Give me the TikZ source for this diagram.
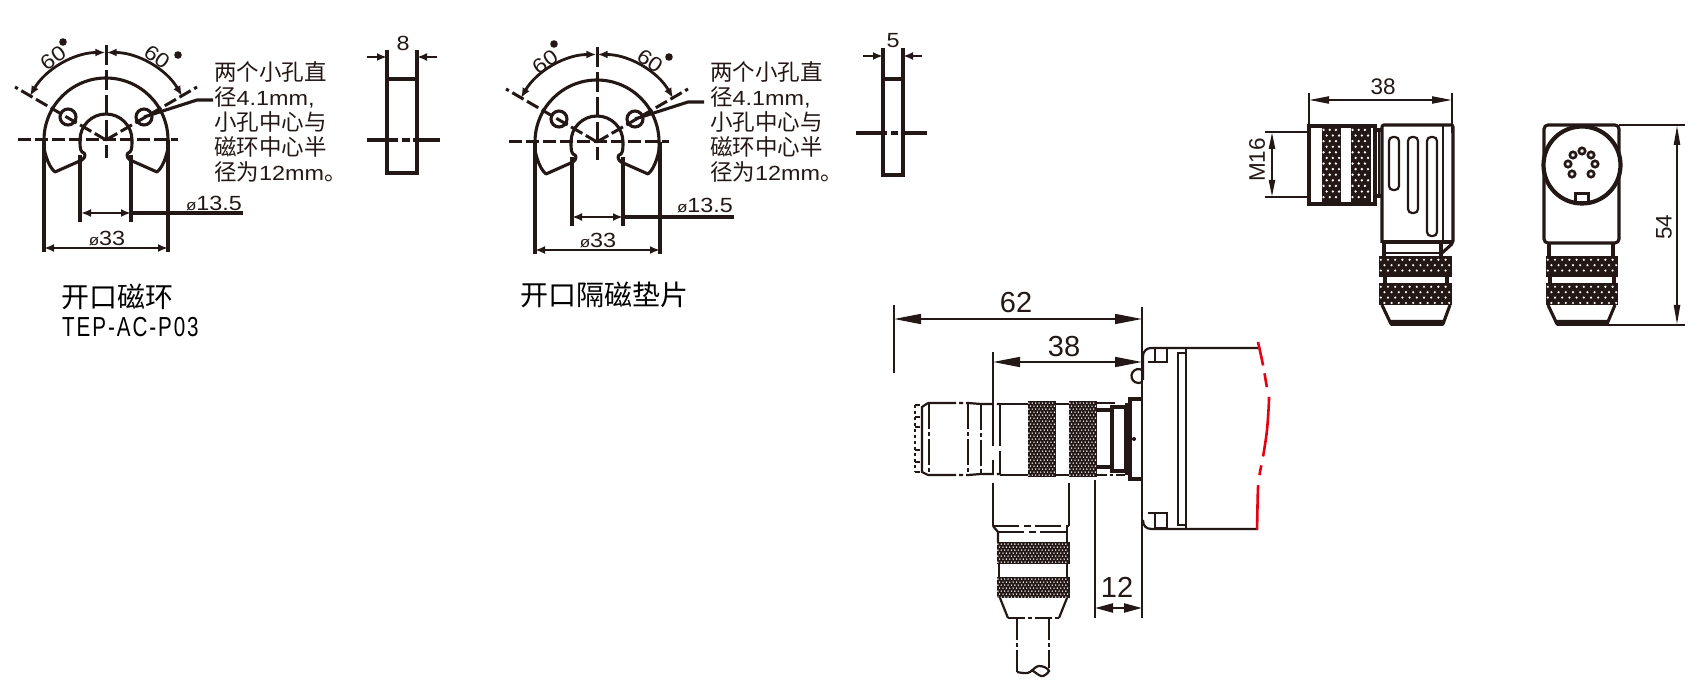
\documentclass[tikz,border=0pt]{standalone}
\usepackage{fontspec}
\usetikzlibrary{arrows.meta}
\setmainfont{Liberation Sans}
\newfontfamily\cjk{Noto Sans CJK SC}
\newfontfamily\widefam[FakeStretch=1.14]{Liberation Sans}
\newfontfamily\narrowfam[FakeStretch=0.75,LetterSpace=7]{Liberation Sans}
\definecolor{ink}{HTML}{231815}
\definecolor{redline}{HTML}{E60012}
\tikzset{
  thickln/.style={line width=3.1pt,draw=ink},
  medln/.style={line width=2.2pt,draw=ink},
  thinln/.style={line width=1.5pt,draw=ink},
  dashln/.style={line width=3pt,draw=ink,dash pattern=on 13pt off 4pt},
  dimsm/.style={line width=2.8pt,draw=ink,{Latex[length=10pt,width=8pt]}-{Latex[length=10pt,width=8pt]}},
  dimstart/.style={line width=2.8pt,draw=ink,{Latex[length=10pt,width=8pt]}-},
  dimend/.style={line width=2.8pt,draw=ink,-{Latex[length=10pt,width=8pt]}},
  dimbig/.style={line width=1.6pt,draw=ink,{Triangle[length=27pt,width=10pt]}-{Triangle[length=27pt,width=10pt]}},
  dimmid/.style={line width=2pt,draw=ink,{Triangle[length=20pt,width=7pt]}-{Triangle[length=20pt,width=7pt]}},
  lbl/.style={inner sep=0pt,text=ink,font=\widefam\fontsize{20.5}{21}\selectfont},
  stdlbl/.style={inner sep=0pt,text=ink,font=\fontsize{22.5}{23}\selectfont},
  biglbl/.style={inner sep=0pt,text=ink,font=\fontsize{29}{29}\selectfont},
  note/.style={inner sep=0pt,anchor=north west,align=left,text=ink,font=\widefam\fontsize{20.5}{25}\selectfont},
  title/.style={inner sep=0pt,anchor=west,text=black,font=\cjk\fontsize{28}{28}\selectfont},
}
\newcommand{\knurl}[7]{% x0,y0,x1,y1,dx,dy,r
  \fill[ink] (#1,#2) rectangle (#3,#4);
  \pgfmathtruncatemacro{\nx}{(#3-#1)/#5}
  \pgfmathtruncatemacro{\ny}{(#4-#2)/#6-1}
  \foreach \j in {0,...,\ny}{
    \foreach \i in {0,...,\nx}{
      \pgfmathsetmacro{\px}{#1+#5*(\i+0.25+0.5*mod(\j,2))}
      \pgfmathsetmacro{\py}{#2+#6*(\j+0.7)}
      \pgfmathparse{\px<#3-1 ? 1 : 0}
      \ifnum\pgfmathresult=1 \fill[white] (\px,\py) circle[radius=#7pt];\fi
    }
  }
}
\newcommand{\ringshape}[2]{%
 \begin{scope}[shift={(#1,#2)}]
  \draw[thickln,line join=round] (-51,32) .. controls (-55,29) and (-58,22) .. (-59,19)
    .. controls (-63,8) and (-62,4) .. (-62,0) arc[start angle=180,end angle=0,radius=62pt]
    .. controls (62,4) and (63,8) .. (59,19) .. controls (58,22) and (55,29) .. (51,32)
    -- (24,20) .. controls (20,17) and (20,13) .. (24,12) .. controls (26,10) and (26,5) .. (26,0)
    arc[start angle=0,end angle=180,radius=26pt]
    .. controls (-26,5) and (-26,10) .. (-24,12) .. controls (-20,13) and (-20,17) .. (-24,20) -- cycle;
  \draw[dashln] (-88,0) -- (72,0);
  \draw[dashln,dash pattern=on 20pt off 5pt] (0,-95) -- (0,18);
  \draw[dashln] (0,0) -- (-91,-53);
  \draw[dashln] (0,0) -- (91,-53);
  \draw[thickln] (-38,-23) circle[radius=8pt];
  \draw[thickln] (38,-23) circle[radius=8pt];
  \draw[thickln] (38,-23) -- (91,-40) -- (107,-40);
  \draw[dimsm] (-76,-44) arc[start angle=150,end angle=90,radius=87pt];
  \draw[dimsm] (76,-44) arc[start angle=30,end angle=90,radius=87pt];
  \fill[ink] (-43,-98) circle[radius=3.8pt];
  \fill[ink] (72,-85) circle[radius=3.8pt];
 \end{scope}
}
\newcommand{\cj}[1]{{\cjk\fontsize{22.5}{25}\selectfont #1}}
\newcommand{\notetext}{\cj{两个小孔直}\\\cj{径}4.1mm,\\\cj{小孔中心与}\\\cj{磁环中心半}\\\cj{径为}12mm\cj{。}}
\newcommand{\dia}{{\fontsize{15}{15}\selectfont ø}}
\begin{document}
\begin{tikzpicture}[x=1pt,y=-1pt]
\useasboundingbox (0,0) rectangle (1701,684);
\fill[white] (0,0) rectangle (1701,684);
% ---------- ring 1
\ringshape{106}{140}
\node[lbl,rotate=35] (r1a) at (53,58) {60};
\node[lbl,rotate=-35] (r1b) at (157,57) {60};
\draw[thickln] (44,140) -- (44,252);
\draw[thickln] (168,140) -- (168,252);
\draw[dimsm] (44,248) -- (168,248);
\draw[thickln] (80,155) -- (80,222);
\draw[thickln] (131,155) -- (131,222);
\draw[dimsm] (81,213) -- (131,213);
\draw[thickln] (131,213) -- (243,213);
\node[lbl] (r1c) at (214,203) {\dia 13.5};
\node[lbl] (r1d) at (107,238) {\dia 33};
\node[note] (r1n) at (214,61) {\notetext};
% rect 1
\draw[thickln] (387,50) -- (387,173) -- (417,173) -- (417,50);
\draw[thickln] (387,79) -- (417,79);
\draw[dimend] (367,57) -- (387,57);
\draw[dimstart] (417,57) -- (437,57);
\draw[thickln] (367,140) -- (398,140) (402,140) -- (410,140) (413,140) -- (440,140);
\node[lbl] (r1e) at (403,43) {8};
\node[title] (t1) at (61,297) {开口磁环};
\node[inner sep=0pt,anchor=west,text=black,font=\narrowfam\fontsize{27.5}{28}\selectfont] (t2) at (62,327) {TEP-AC-P03};
% ---------- ring 2
\ringshape{597}{142}
\node[lbl,rotate=35] (r2a) at (545,62) {60};
\node[lbl,rotate=-35] (r2b) at (650,61) {60};
\draw[thickln] (535,142) -- (535,254);
\draw[thickln] (660,142) -- (660,254);
\draw[dimsm] (535,250) -- (660,250);
\draw[thickln] (572,157) -- (572,226);
\draw[thickln] (623,157) -- (623,226);
\draw[dimsm] (572,217) -- (623,217);
\draw[thickln] (623,217) -- (734,217);
\node[lbl] (r2c) at (705,205) {\dia 13.5};
\node[lbl] (r2d) at (598,240) {\dia 33};
\node[note] (r2n) at (710,61) {\notetext};
% rect 2
\draw[thickln] (883,48) -- (883,175) -- (903,175) -- (903,48);
\draw[thickln] (883,79) -- (903,79);
\draw[dimend] (863,56) -- (883,56);
\draw[dimstart] (903,56) -- (922,56);
\draw[thickln] (856,133) -- (887,133) (891,133) -- (898,133) (901,133) -- (927,133);
\node[lbl] (r2e) at (893,41) {5};
\node[title] (t3) at (520,295) {开口隔磁垫片};
% ---------- top right: side view
\draw[medln] (1309,93) -- (1309,126);
\draw[medln] (1452,93) -- (1452,133);
\draw[dimmid] (1309,100) -- (1452,100);
\node[stdlbl] (d38a) at (1383,87) {38};
\draw[medln] (1265,132) -- (1307,132);
\draw[medln] (1265,197) -- (1307,197);
\draw[medln,{Triangle[length=17pt,width=6pt]}-{Triangle[length=17pt,width=6pt]}] (1272,132) -- (1272,197);
\node[stdlbl,rotate=90] (dm16) at (1257,160) {M16};
\draw[thickln] (1309,126) rectangle (1375,204);
\knurl{1322}{126}{1341}{204}{6.2}{5.6}{1.3}
\knurl{1351}{126}{1371}{204}{6.2}{5.6}{1.3}
\draw[thickln] (1375,130) -- (1381,130) (1375,196) -- (1381,196);
\draw[medln] (1379,130) -- (1379,196);
\draw[thickln,rounded corners=2pt] (1382,243) -- (1382,125) -- (1453,125) -- (1453,243) -- (1442,253);
\draw[medln] (1443,125) -- (1443,243);
\draw[thickln] (1382,242) -- (1453,242);
\draw[thickln] (1384,243) -- (1384,256);
\draw[thickln] (1441,243) -- (1441,256);
\draw[medln] (1384,253) -- (1441,253);
\foreach \a/\b/\c in {1389/1399/190,1408/1418/213,1427/1437/236}{
  \draw[medln,rounded corners=4pt] (\a,137) rectangle (\b,\c);
}
\knurl{1379}{256}{1452}{277}{7.2}{5.4}{1.2}
\knurl{1379}{283}{1452}{305}{7.2}{5.4}{1.2}
\draw[thickln] (1385,277) -- (1385,283) (1447,277) -- (1447,283);
\draw[thickln,line join=round] (1382,305) -- (1391,324) -- (1443,324) -- (1450,305);
\fill[ink] (1389,320) -- (1445,320) -- (1443,326) -- (1391,326) -- cycle;
% ---------- top right: front view
\draw[thickln,rounded corners=4pt] (1544,243) -- (1544,125) -- (1619,125) -- (1619,243) -- cycle;
\draw[line width=4.2pt,draw=ink,fill=white] (1582,165) circle[radius=38.5pt];
\foreach \p/\q in {1582/151,1573/155,1591/155,1568/164,1595/164,1572/174,1591/174}{
  \draw[line width=2.6pt,draw=ink] (\p,\q) circle[radius=3.2pt];
}
\fill[ink] (1574,192) rectangle (1590,203);
\fill[white] (1577,195) rectangle (1587,201);
\draw[thickln] (1549,243) -- (1549,256);
\draw[thickln] (1613,243) -- (1613,256);
\knurl{1546}{256}{1618}{277}{7.2}{5.4}{1.2}
\knurl{1546}{283}{1618}{305}{7.2}{5.4}{1.2}
\draw[thickln] (1550,277) -- (1550,283) (1614,277) -- (1614,283);
\draw[thickln,line join=round] (1548,305) -- (1557,324) -- (1607,324) -- (1615,305);
\fill[ink] (1555,320) -- (1609,320) -- (1607,326) -- (1557,326) -- cycle;
\draw[medln] (1619,125) -- (1685,125);
\draw[medln] (1607,325) -- (1685,325);
\draw[medln,{Triangle[length=20pt,width=6pt]}-{Triangle[length=20pt,width=6pt]}] (1677,125) -- (1677,325);
\node[stdlbl,rotate=90] (d54) at (1664,227) {54};
% ---------- bottom: dimensions
\draw[thinln] (894,305) -- (894,373);
\draw[medln] (1142,307) -- (1142,618);
\draw[dimbig] (894,319) -- (1142,319);
\node[biglbl] (d62) at (1016,303) {62};
\draw[thinln] (993,352) -- (993,403);
\draw[dimbig] (993,362) -- (1142,362);
\node[biglbl] (d38b) at (1064,347) {38};
\draw[medln] (1095,480) -- (1095,618);
\draw[medln,{Triangle[length=18pt,width=9pt]}-{Triangle[length=18pt,width=9pt]}] (1095,608) -- (1142,608);
\node[biglbl] (d12) at (1117,587) {12};
% ---------- bottom: panel
\draw[medln,rounded corners=8pt] (1258,348) -- (1143,348) -- (1143,380);
\draw[medln] (1143,520) .. controls (1143,526) and (1146,529) .. (1152,529) -- (1257,529);
\draw[medln] (1155,348) rectangle (1167,362);
\draw[medln] (1155,513) rectangle (1167,528);
\draw[medln] (1148,362) -- (1167,362) (1148,513) -- (1167,513);
\draw[medln] (1178,353) rectangle (1186,525);
\draw[medln] (1186,348) -- (1186,529);
\draw[medln] (1142,370) arc[start angle=60,end angle=300,radius=7pt];
\draw[line width=2.6pt,draw=redline,dash pattern=on 24pt off 8pt on 14pt off 10pt on 60pt off 9pt on 10pt off 10pt on 45pt off 400pt] plot[smooth] coordinates {(1258,342) (1263,365) (1267,388) (1269,398) (1267,430) (1263,457) (1260,472) (1258,488) (1257,533)};
% ---------- bottom: connector, horizontal
\draw[medln,dash pattern=on 28pt off 3pt on 4pt off 3pt] (928,403) -- (968,403) -- (981,404) -- (1000,404);
\draw[medln,dash pattern=on 28pt off 3pt on 4pt off 3pt] (928,475) -- (968,475) -- (981,474) -- (1000,474);
\draw[medln] (928,403) -- (922,407) -- (922,472) -- (928,475);
\draw[medln,dash pattern=on 26pt off 3pt on 4pt off 3pt] (929,403) -- (929,475);
\draw[medln,dash pattern=on 26pt off 3pt on 4pt off 3pt] (968,403) -- (968,475);
\draw[medln,dash pattern=on 26pt off 3pt on 4pt off 3pt] (981,404) -- (981,474);
\draw[medln,dash pattern=on 42pt off 14pt] (993,404) -- (993,474);
\draw[medln,dash pattern=on 42pt off 5pt] (1000,404) -- (1000,474);
\draw[medln] (1000,404) -- (1028,404) (1000,475) -- (1028,475);
\draw[medln] (1056,404) -- (1069,404) (1056,475) -- (1069,475);
\draw[medln] (915,405) -- (920,405) (915,417) -- (920,417) (915,427) -- (920,427) (915,450) -- (920,450) (915,462) -- (920,462) (915,472) -- (920,472);
\draw[medln,dash pattern=on 3pt off 3pt] (915,405) -- (915,472);
\knurl{1028}{401}{1056}{477}{3.4}{3.0}{0.8}
\knurl{1069}{401}{1097}{477}{3.4}{3.0}{0.8}
\draw[medln] (1097,403) -- (1115,403);
\draw[medln,dash pattern=on 10pt off 3pt on 3pt off 3pt] (1097,475) -- (1125,475);
\draw[thickln] (1097,410) -- (1112,410) (1097,467) -- (1112,467);
\draw[thickln] (1112,407) rectangle (1126,471);
\draw[line width=3.4pt,draw=ink] (1127,403) -- (1127,475);
\draw[thickln] (1143,399) -- (1130,399) -- (1130,479) -- (1143,479);
\draw[thinln] (1130,439) -- (1136,439);
\fill[ink] (1134,439) circle[radius=2pt];
% ---------- bottom: connector, vertical
\draw[medln] (993,483) -- (993,526);
\draw[medln] (1069,483) -- (1069,526);
\draw[medln,dash pattern=on 26pt off 5pt on 7pt off 4pt] (993,526) -- (1069,526);
\draw[medln,dash pattern=on 26pt off 5pt on 7pt off 4pt] (998,532) -- (1067,532);
\draw[medln] (993,526) -- (998,532) -- (998,542);
\draw[medln] (1067,526) -- (1067,542);
\knurl{997}{542}{1070}{564}{3.4}{3.0}{0.8}
\draw[medln] (999,564) -- (999,577) (1067,564) -- (1067,577);
\knurl{997}{577}{1070}{598}{3.4}{3.0}{0.8}
\draw[medln] (1000,598) -- (1008,618);
\draw[medln] (1067,598) -- (1059,618);
\draw[medln,dash pattern=on 17pt off 3pt on 4pt off 3pt] (1008,618) -- (1059,618);
\draw[medln,dash pattern=on 22pt off 3pt on 4pt off 3pt] (1017,618) -- (1017,672);
\draw[medln,dash pattern=on 22pt off 3pt on 4pt off 3pt] (1049,618) -- (1049,668);
\draw[medln] (1017,672) .. controls (1022,673) and (1027,674) .. (1030,672) .. controls (1033,670) and (1036,666) .. (1039,666) .. controls (1043,666) and (1048,668) .. (1049,671) .. controls (1048,673) and (1044,677) .. (1041,676) .. controls (1038,675) and (1035,672) .. (1033,671);
\end{tikzpicture}
\end{document}
